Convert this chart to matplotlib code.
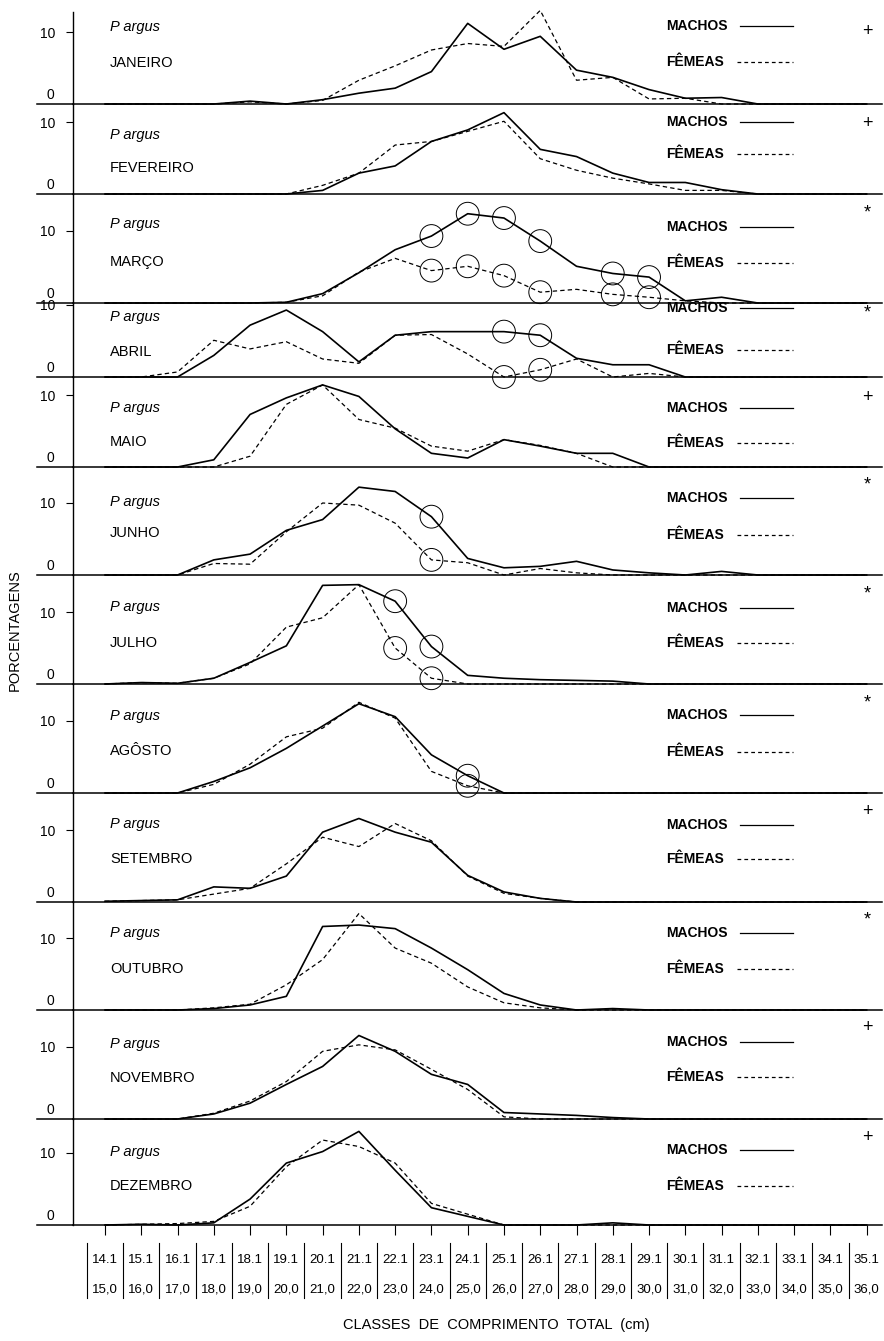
import matplotlib
matplotlib.use('Agg')
import matplotlib.pyplot as plt
from matplotlib.lines import Line2D
from matplotlib.transforms import blended_transform_factory
import numpy as np

plt.rcParams['font.family'] = ['Liberation Sans', 'DejaVu Sans']

# classes de comprimento total (cm)
classes_lo = ['14.1', '15.1', '16.1', '17.1', '18.1', '19.1', '20.1', '21.1', '22.1', '23.1', '24.1',
              '25.1', '26.1', '27.1', '28.1', '29.1', '30.1', '31.1', '32.1', '33.1', '34.1', '35.1']
classes_hi = ['15,0', '16,0', '17,0', '18,0', '19,0', '20,0', '21,0', '22,0', '23,0', '24,0', '25,0',
              '26,0', '27,0', '28,0', '29,0', '30,0', '31,0', '32,0', '33,0', '34,0', '35,0', '36,0']

meses = ['JANEIRO', 'FEVEREIRO', 'MARÇO', 'ABRIL', 'MAIO', 'JUNHO', 'JULHO',
         'AGÔSTO', 'SETEMBRO', 'OUTUBRO', 'NOVEMBRO', 'DEZEMBRO']
sinais = ['+', '+', '*', '*', '+', '*', '*', '*', '+', '*', '+', '+']

# porcentagens por classe (machos / femeas)
jan_m = [0, 0, 0, 0, 0.4, 0, 0.6, 1.5, 2.2, 4.5, 11.2, 7.6, 9.4, 4.7, 3.7, 2.0, 0.8, 0.9, 0, 0, 0, 0]
jan_f = [0, 0, 0, 0, 0.3, 0, 0.5, 3.3, 5.3, 7.5, 8.4, 8.0, 13.0, 3.3, 3.7, 0.7, 0.8, 0, 0, 0, 0, 0]
fev_m = [0, 0, 0, 0, 0, 0, 0.5, 2.9, 3.9, 7.3, 8.9, 11.3, 6.2, 5.2, 2.9, 1.6, 1.6, 0.6, 0, 0, 0, 0]
fev_f = [0, 0, 0, 0, 0, 0, 1.2, 2.9, 6.8, 7.3, 8.7, 10.1, 4.9, 3.3, 2.2, 1.4, 0.5, 0.5, 0, 0, 0, 0]
mar_m = [0, 0, 0, 0, 0, 0.1, 1.3, 4.2, 7.4, 9.3, 12.4, 11.8, 8.6, 5.1, 4.1, 3.6, 0.3, 0.8, 0, 0, 0, 0]
mar_f = [0, 0, 0, 0, 0, 0.1, 1.0, 4.3, 6.2, 4.5, 5.1, 3.8, 1.5, 1.9, 1.2, 0.8, 0.3, 0, 0, 0, 0, 0]
abr_m = [0, 0, 0, 3.0, 7.2, 9.3, 6.3, 2.1, 5.8, 6.3, 6.3, 6.3, 5.8, 2.6, 1.7, 1.7, 0, 0, 0, 0, 0, 0]
abr_f = [0, 0, 0.7, 5.1, 3.9, 4.9, 2.5, 1.9, 5.8, 5.9, 3.2, 0, 1.0, 2.5, 0, 0.5, 0, 0, 0, 0, 0, 0]
mai_m = [0, 0, 0, 1.0, 7.3, 9.6, 11.4, 9.8, 5.3, 1.9, 1.25, 3.8, 2.9, 1.9, 1.9, 0, 0, 0, 0, 0, 0, 0]
mai_f = [0, 0, 0, 0, 1.5, 8.7, 11.4, 6.6, 5.4, 2.9, 2.2, 3.8, 3.0, 1.9, 0, 0, 0, 0, 0, 0, 0, 0]
jun_m = [0, 0, 0, 2.1, 2.9, 6.2, 7.7, 12.2, 11.6, 8.1, 2.3, 1.0, 1.2, 1.9, 0.7, 0.3, 0, 0.5, 0, 0, 0, 0]
jun_f = [0, 0, 0, 1.6, 1.5, 6.0, 10.0, 9.7, 7.2, 2.1, 1.7, 0, 0.9, 0.3, 0, 0, 0, 0, 0, 0, 0, 0]
jul_m = [0, 0.2, 0.1, 0.8, 3.0, 5.3, 13.7, 13.8, 11.5, 5.2, 1.2, 0.8, 0.6, 0.5, 0.4, 0, 0, 0, 0, 0, 0, 0]
jul_f = [0, 0.2, 0.1, 0.8, 2.8, 7.9, 9.2, 13.8, 5.0, 0.8, 0, 0, 0, 0, 0, 0, 0, 0, 0, 0, 0, 0]
ago_m = [0, 0, 0, 1.6, 3.5, 6.2, 9.3, 12.4, 10.6, 5.3, 2.4, 0, 0, 0, 0, 0, 0, 0, 0, 0, 0, 0]
ago_f = [0, 0, 0, 1.2, 4.0, 7.8, 9.0, 12.6, 10.4, 3.0, 1.0, 0, 0, 0, 0, 0, 0, 0, 0, 0, 0, 0]
set_m = [0.1, 0.2, 0.3, 2.1, 1.9, 3.6, 9.7, 11.6, 9.7, 8.3, 3.7, 1.4, 0.5, 0, 0, 0, 0, 0, 0, 0, 0, 0]
set_f = [0.1, 0.2, 0.3, 1.1, 1.9, 5.3, 9.0, 7.7, 10.9, 8.5, 3.6, 1.2, 0.5, 0, 0, 0, 0, 0, 0, 0, 0, 0]
out_m = [0, 0, 0, 0.2, 0.7, 1.9, 11.6, 11.8, 11.3, 8.6, 5.6, 2.3, 0.7, 0, 0.2, 0, 0, 0, 0, 0, 0, 0]
out_f = [0, 0, 0, 0.3, 0.8, 3.5, 7.0, 13.4, 8.6, 6.5, 3.2, 1.0, 0.3, 0, 0, 0, 0, 0, 0, 0, 0, 0]
nov_m = [0, 0, 0, 0.7, 2.2, 4.8, 7.3, 11.6, 9.4, 6.2, 4.8, 0.9, 0.7, 0.5, 0.2, 0, 0, 0, 0, 0, 0, 0]
nov_f = [0, 0, 0, 0.8, 2.5, 5.2, 9.4, 10.3, 9.6, 6.9, 4.1, 0.3, 0, 0, 0, 0, 0, 0, 0, 0, 0, 0]
dez_m = [0, 0.1, 0, 0.3, 3.6, 8.6, 10.2, 13.0, 7.6, 2.4, 1.2, 0, 0, 0, 0.3, 0, 0, 0, 0, 0, 0, 0]
dez_f = [0, 0.1, 0.2, 0.5, 2.6, 8.1, 11.8, 10.9, 8.6, 3.0, 1.5, 0, 0, 0, 0, 0, 0, 0, 0, 0, 0, 0]

machos = [jan_m, fev_m, mar_m, abr_m, mai_m, jun_m, jul_m, ago_m, set_m, out_m, nov_m, dez_m]
femeas = [jan_f, fev_f, mar_f, abr_f, mai_f, jun_f, jul_f, ago_f, set_f, out_f, nov_f, dez_f]

# classes assinaladas com circulo (indice do mes -> indices de classe)
circulos = {2: [9, 10, 11, 12, 14, 15], 3: [11, 12], 5: [9], 6: [8, 9], 7: [10]}

# layout (pixels)
W, H = 884, 1341
base_px = [104, 194, 303, 377, 467, 575, 684, 793, 902, 1010, 1119, 1225]
top0 = 12
txt_off = [(77, 41), (59, 26), (79, 41), (60, 25), (59, 25), (73, 42),
           (77, 41), (77, 42), (78, 43), (77, 41), (75, 41), (73, 39)]
leg_off = [(78, 42), (72, 40), (76, 40), (69, 27), (59, 24), (77, 40),
           (76, 41), (78, 41), (77, 43), (77, 41), (77, 42), (75, 39)]
sig_off = [72, 71, 90, 64, 70, 90, 90, 90, 91, 90, 91, 88]

X0, X1 = 73, 882
K0, KSTEP = 105, 36.27
PXU = 7.2


def fx(x):
    return x / W


def fy(y):
    return 1 - y / H


fig = plt.figure(figsize=(W / 100, H / 100), dpi=100)
k = np.arange(len(classes_lo))
xlim = ((X0 - K0) / KSTEP, (X1 - K0) / KSTEP)

tops = [top0] + base_px[:-1]
axes = []
for i in range(12):
    b, t = base_px[i], tops[i]
    ax = fig.add_axes([fx(X0), fy(b), (X1 - X0) / W, (b - t) / H])
    ax.patch.set_alpha(0)
    ax.set_xlim(*xlim)
    ax.set_ylim(0, (b - t) / PXU)
    for s in ['top', 'right']:
        ax.spines[s].set_visible(False)
    ax.spines['left'].set_linewidth(1.0)
    ax.spines['bottom'].set_linewidth(1.1)
    ax.set_yticks([10])
    ax.set_yticklabels(['10'], fontsize=10)
    ax.tick_params(axis='y', length=5, width=0.8, pad=8)
    if i == 11:
        ax.set_xticks(k)
        ax.set_xticklabels([])
        ax.tick_params(axis='x', length=7, width=0.8)
    else:
        ax.set_xticks([])
    # prolonga a linha do zero
    ax.plot([-0.044, 0], [0, 0], transform=ax.transAxes, color='k', lw=1.1, clip_on=False)
    fig.text(fx(50), fy(b - 2), '0', ha='center', va='bottom', fontsize=10)

    ax.plot(k, machos[i], color='k', lw=1.2, clip_on=False)
    ax.plot(k, femeas[i], color='k', lw=0.9, ls='--', dashes=(3.5, 2.5), clip_on=False)
    if i in circulos:
        idx = circulos[i]
        ax.scatter(k[idx], np.array(machos[i])[idx], s=270, facecolors='none',
                   edgecolors='k', linewidths=0.7, clip_on=False, zorder=3)
        ax.scatter(k[idx], np.array(femeas[i])[idx], s=270, facecolors='none',
                   edgecolors='k', linewidths=0.7, clip_on=False, zorder=3)

    o1, o2 = txt_off[i]
    fig.text(fx(110), fy(b - o1), 'P argus', style='italic', fontsize=10.5, va='center')
    fig.text(fx(110), fy(b - o2), meses[i], fontsize=10.5, va='center')

    l1, l2 = leg_off[i]
    fig.text(fx(666), fy(b - l1), 'MACHOS', fontsize=10, va='center', fontweight='bold')
    fig.add_artist(Line2D([fx(740), fx(793)], [fy(b - l1), fy(b - l1)], color='k', lw=0.9))
    fig.text(fx(666), fy(b - l2), 'FÊMEAS', fontsize=10, va='center', fontweight='bold')
    fig.add_artist(Line2D([fx(737), fx(793)], [fy(b - l2), fy(b - l2)], color='k', lw=0.9,
                          ls='--', dashes=(3, 2.5)))
    fig.text(fx(867), fy(b - sig_off[i]), sinais[i], fontsize=13, ha='center', va='center')
    axes.append(ax)

# tabela das classes
ax = axes[-1]
tr = blended_transform_factory(ax.transData, fig.transFigure)
for j in range(len(classes_lo) + 1):
    ax.plot([j - 0.5, j - 0.5], [fy(1243), fy(1298)], transform=tr, color='k', lw=0.8, clip_on=False)
for j in range(len(classes_lo)):
    ax.text(j, fy(1260), classes_lo[j], transform=tr, ha='center', va='center', fontsize=9.5)
    ax.text(j, fy(1290), classes_hi[j], transform=tr, ha='center', va='center', fontsize=9.5)

fig.text(fx(496), fy(1325), 'CLASSES  DE  COMPRIMENTO  TOTAL  (cm)', ha='center', va='center', fontsize=10.5)
fig.text(fx(15), fy(630), 'PORCENTAGENS', rotation=90, ha='center', va='center', fontsize=10.5)

fig.savefig('out.png', dpi=100)
